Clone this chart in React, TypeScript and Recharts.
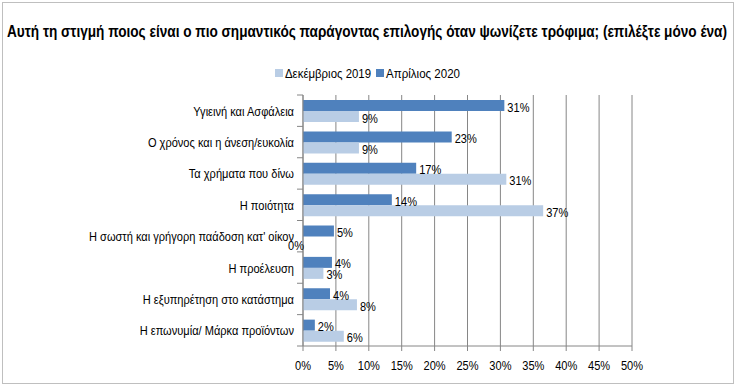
import { BarChart, Bar, XAxis, YAxis, CartesianGrid, LabelList } from "recharts";

const categories = [
  "Υγιεινή και Ασφάλεια",
  "Ο χρόνος και η άνεση/ευκολία",
  "Τα χρήματα που δίνω",
  "Η ποιότητα",
  "Η σωστή και γρήγορη παάδοση κατ' οίκον",
  "Η προέλευση",
  "Η εξυπηρέτηση στο κατάστημα",
  "Η επωνυμία/ Μάρκα προϊόντων",
];
const april2020 = [30.6, 22.6, 17.2, 13.5, 4.7, 4.4, 4.1, 1.8];
const december2019 = [8.5, 8.5, 30.9, 36.5, 0, 3.1, 8.2, 6.2];
const xTicks = [0, 5, 10, 15, 20, 25, 30, 35, 40, 45, 50];

const FONT = "'Liberation Sans', Arial, sans-serif";
const NARROW = 0.82; // no Arial Narrow installed, squeeze Liberation Sans instead
const DARK = "#4F81BD";
const LIGHT = "#B9CDE5";
const GRID = "#868686";

const data = categories.map((name, i) => ({
  name,
  apr: april2020[i],
  dec: december2019[i],
}));

// Category tick: right aligned label plus a small tick mark between categories.
// Zero-length bars get no label from recharts, so the "0%" is drawn here,
// left of the axis like the original.
const CategoryTick = (props: any) => {
  const { x, y, payload } = props;
  const half = payload && payload.offset ? payload.offset : 15.7;
  const zeroDec = december2019[payload.index] === 0;
  return (
    <g>
      <line x1={x + 2} x2={x + 8} y1={y - half} y2={y - half} stroke={GRID} />
      {payload.index === categories.length - 1 && (
        <line x1={x + 2} x2={x + 8} y1={y + half} y2={y + half} stroke={GRID} />
      )}
      <text
        transform={`translate(${x - 1},${y + 5}) scale(${NARROW},1)`}
        textAnchor="end"
        fontSize={13.5}
        fill="#000"
        fontFamily={FONT}
      >
        {payload.value}
      </text>
      {zeroDec && (
        <text
          transform={`translate(${x - 7},${y + 14}) scale(${NARROW},1)`}
          fontSize={13.5}
          fill="#000"
          fontFamily={FONT}
        >
          0%
        </text>
      )}
    </g>
  );
};

const PercentTick = (props: any) => {
  const { x, y, payload } = props;
  return (
    <text
      transform={`translate(${x},${y + 17}) scale(${NARROW},1)`}
      textAnchor="middle"
      fontSize={13.5}
      fill="#000"
      fontFamily={FONT}
    >
      {`${payload.value}%`}
    </text>
  );
};

const ValueLabel = (props: any) => {
  const { x, y, width, height, value } = props;
  if (Number(value) === 0) return null;
  return (
    <text
      transform={`translate(${x + width + 3},${y + height / 2 + 6}) scale(${NARROW},1)`}
      fontSize={13.5}
      fill="#000"
      fontFamily={FONT}
    >
      {`${Math.round(Number(value))}%`}
    </text>
  );
};

export default function App() {
  return (
    <div style={{ position: "absolute", left: 0, top: 0, width: 737, height: 389, background: "#fff" }}>
      <div
        style={{
          position: "absolute",
          left: 2,
          top: 2,
          width: 730,
          height: 380,
          border: "1px solid #BFBFBF",
        }}
      />
      <div style={{ position: "absolute", left: 0, top: 0 }}>
        <BarChart
          width={737}
          height={389}
          data={data}
          layout="vertical"
          margin={{ top: 95, right: 105, left: 3, bottom: 13 }}
          barGap={0}
          barCategoryGap={0}
        >
          <text
            x={367}
            y={37}
            textAnchor="middle"
            fontWeight="bold"
            fontSize={16}
            fontFamily={FONT}
            fill="#000"
            textLength={720}
            lengthAdjust="spacingAndGlyphs"
          >
            Αυτή τη στιγμή ποιος είναι ο πιο σημαντικός παράγοντας επιλογής όταν ψωνίζετε τρόφιμα; (επιλέξτε μόνο ένα)
          </text>
          <g>
            <rect x={275} y={69} width={8} height={8} fill={LIGHT} />
            <text x={285} y={78} fontSize={13} fontFamily={FONT} fill="#000" textLength={86} lengthAdjust="spacingAndGlyphs">
              Δεκέμβριος 2019
            </text>
            <rect x={376} y={69} width={8} height={8} fill={DARK} />
            <text x={386} y={78} fontSize={13} fontFamily={FONT} fill="#000" textLength={74} lengthAdjust="spacingAndGlyphs">
              Απρίλιος 2020
            </text>
          </g>
          <CartesianGrid horizontal={false} stroke={GRID} />
          <XAxis
            type="number"
            domain={[0, 50]}
            ticks={xTicks}
            interval={0}
            height={30}
            stroke={GRID}
            tickSize={5}
            tick={<PercentTick />}
          />
          <YAxis
            type="category"
            dataKey="name"
            width={300}
            stroke={GRID}
            tickLine={false}
            interval={0}
            tick={<CategoryTick />}
          />
          <Bar dataKey="apr" name="Απρίλιος 2020" fill={DARK} barSize={11} isAnimationActive={false}>
            <LabelList dataKey="apr" content={<ValueLabel />} />
          </Bar>
          <Bar dataKey="dec" name="Δεκέμβριος 2019" fill={LIGHT} barSize={11} isAnimationActive={false}>
            <LabelList dataKey="dec" content={<ValueLabel />} />
          </Bar>
        </BarChart>
      </div>
    </div>
  );
}
